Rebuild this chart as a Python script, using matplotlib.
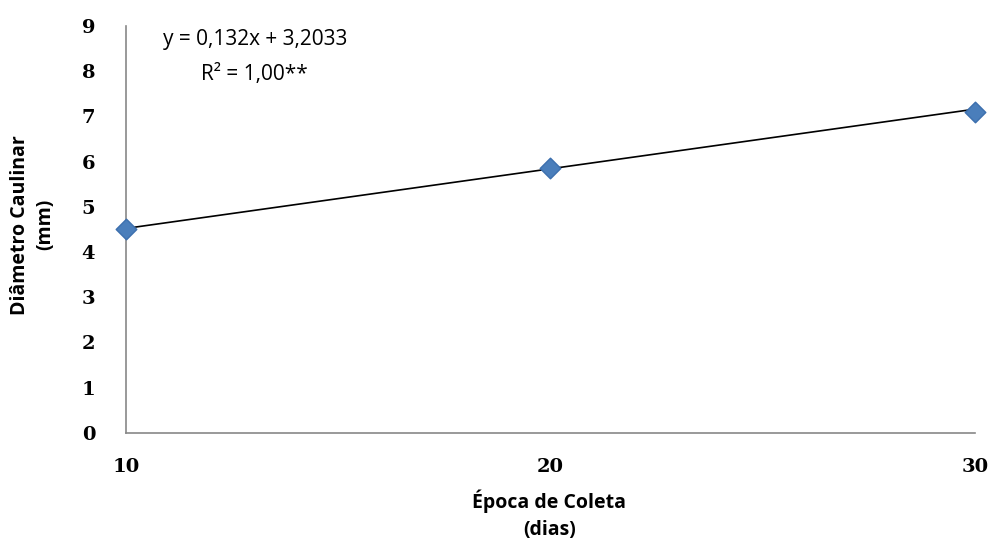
import matplotlib.pyplot as plt
import numpy as np

# coleta (dias) e diâmetro caulinar medido (mm)
epoca = [10, 20, 30]
diametro = [4.5, 5.85, 7.1]
coef_a = 0.132
coef_b = 3.2033
y_ticks = list(range(0, 10))
x_ticks = [10, 20, 30]

fig = plt.figure(figsize=(9.9, 5.55), dpi=100)
ax = fig.add_axes([0.127, 0.22, 0.858, 0.733])

xs = np.array([epoca[0], epoca[-1]])
ax.plot(xs, coef_a * xs + coef_b, color='black', lw=1.2, zorder=2)
ax.scatter(epoca, diametro, marker='D', s=110, color='#4a7ebb',
           edgecolors='#3c6fae', zorder=3, clip_on=False)

ax.set_xlim(10, 30)
ax.set_ylim(0, 9)
ax.set_xticks(x_ticks)
ax.set_yticks(y_ticks)
ax.tick_params(length=0)
ax.tick_params(axis='x', pad=18)
ax.tick_params(axis='y', pad=22)
for lab in ax.get_xticklabels() + ax.get_yticklabels():
    lab.set_family('DejaVu Serif')
    lab.set_fontweight('bold')
    lab.set_fontsize(14)

for s in ['top', 'right']:
    ax.spines[s].set_visible(False)
for s in ['left', 'bottom']:
    ax.spines[s].set_color('#888888')
    ax.spines[s].set_linewidth(1.2)

# títulos dos eixos
fig.text(0.555, 0.072, 'Época de Coleta\n(dias)', ha='center', va='center',
         fontsize=14, fontweight='bold', family='Open Sans', linespacing=1.45)
fig.text(0.033, 0.595, 'Diâmetro Caulinar\n(mm)', ha='center', va='center',
         rotation=90, fontsize=14, fontweight='bold', family='Open Sans',
         linespacing=1.3)

ax.text(0.152, 0.966, 'y = 0,132x + 3,2033', transform=ax.transAxes,
        ha='center', va='center', fontsize=15, family='Open Sans')
ax.text(0.152, 0.88, 'R² = 1,00**', transform=ax.transAxes,
        ha='center', va='center', fontsize=15, family='Open Sans')

fig.savefig('out.png', dpi=100)
